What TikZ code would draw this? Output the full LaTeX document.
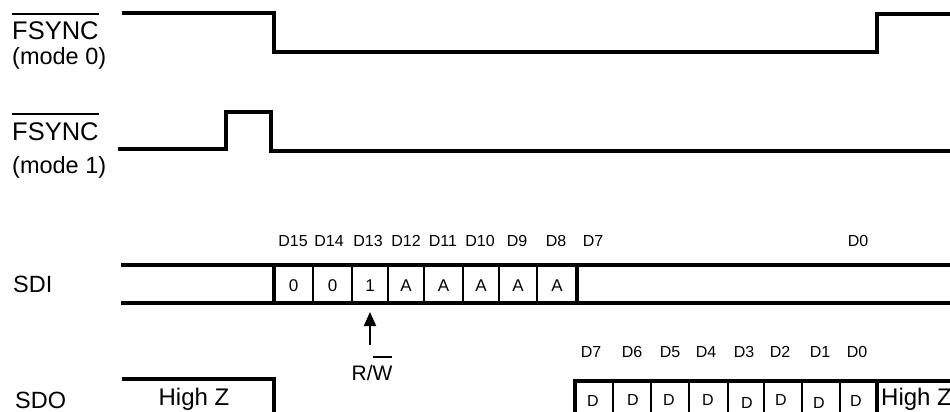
\documentclass[tikz,border=0pt]{standalone}
\usepackage{fontspec}
\setmainfont{Liberation Sans}
\usetikzlibrary{arrows.meta}
\newcommand\olin[2]{\setbox0=\hbox{#2}\rlap{\rule[#1]{\wd0}{1.6pt}}\box0}
\begin{document}
\begin{tikzpicture}[x=1pt,y=-1pt,
  sig/.style={line width=3.2pt,line cap=rect,line join=miter},
  div/.style={line width=2.6pt},
  big/.style={inner sep=0pt,anchor=base west,font=\fontsize{23.5}{26}\selectfont},
  fsy/.style={inner sep=0pt,anchor=base west,font=\fontsize{25.5}{27}\selectfont},
  bitlbl/.style={inner sep=0pt,anchor=base,font=\fontsize{16}{18}\selectfont},
  cell/.style={inner sep=0pt,anchor=base,font=\fontsize{17}{19}\selectfont},
  dcell/.style={inner sep=0pt,anchor=base,font=\fontsize{16}{18}\selectfont},
  hz/.style={inner sep=0pt,anchor=base,font=\fontsize{24}{26}\selectfont}]
\useasboundingbox (0,0) rectangle (950,412);

% labels
\node[fsy] (fs0) at (12,40) {\olin{25pt}{FSYNC}};
\node[big] (m0) at (12,65) {(mode 0)};
\node[fsy] (fs1) at (12,140) {\olin{25pt}{FSYNC}};
\node[big] (m1) at (12,173) {(mode 1)};
\node[big] (sdi) at (13,292) {SDI};
\node[big] (sdo) at (15,408) {SDO};

% FSYNC mode 0
\draw[sig] (124,13) -- (274,13) -- (274,52) -- (877,52) -- (877,14) -- (952,14);
% FSYNC mode 1
\draw[sig] (120,149) -- (226,149) -- (226,112) -- (271,112) -- (271,151) -- (952,151);

% SDI
\draw[sig] (123,265) -- (952,265);
\draw[sig] (123,303) -- (952,303);
\draw[sig] (274,265) -- (274,303);
\foreach \x in {313,352,388,424,463,499,537} \draw[div] (\x,265) -- (\x,303);
\draw[sig] (577,265) -- (577,303);

\foreach \x/\t/\n in {293/D15/a,329/D14/b,368/D13/c,406/D12/d,443/D11/e,480/D10/f,517/D9/g,556/D8/h,593/D7/i,858/D0/j}
  \node[bitlbl] (sdil\n) at (\x,246) {\t};
\foreach \x/\t/\n in {293.5/0/a,332.5/0/b,370/1/c,406/A/d,443.5/A/e,481/A/f,518/A/g,557/A/h}
  \node[cell] (sdic\n) at (\x,291) {\t};

% R/W arrow
\coordinate (rwtail) at (370,345);
\coordinate (rwtip) at (370,312);
\draw[line width=2pt,-{Triangle[length=14pt,width=12pt]}] (rwtail) -- (rwtip);
\node[inner sep=0pt,anchor=base,font=\fontsize{21}{23}\selectfont] (rw) at (372,380) {R/\olin{22pt}{W}};

% SDO
\draw[sig] (124,379) -- (274,379) -- (274,414);
\node[hz] (hzl) at (194,405) {High Z};
\draw[sig] (575,381) -- (952,381);
\draw[sig] (575,381) -- (575,414);
\foreach \x in {613,651,689,728,764,802,840} \draw[div] (\x,381) -- (\x,414);
\draw[sig] (877,381) -- (877,414);
\node[hz,anchor=base west] (hzr) at (881,405) {High Z};

\foreach \x/\t/\n in {591/D7/a,632/D6/b,670/D5/c,706/D4/d,744/D3/e,780/D2/f,820/D1/g,857/D0/h}
  \node[bitlbl] (sdol\n) at (\x,357) {\t};
\foreach \x/\y/\n in {593/406/a,633/405/b,669/405/c,708/405/d,747/408/e,781/405/f,819/408/g,856/406/h}
  \node[dcell] (sdoc\n) at (\x,\y) {D};
\end{tikzpicture}
\end{document}
